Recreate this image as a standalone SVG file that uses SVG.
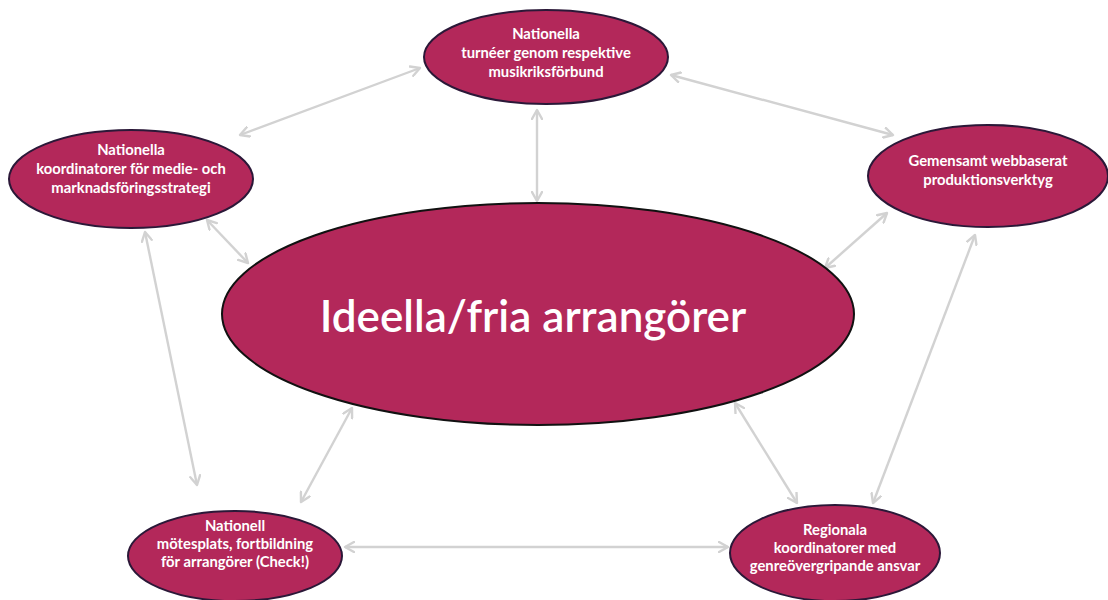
<svg xmlns="http://www.w3.org/2000/svg" width="1108" height="600" viewBox="0 0 1108 600">
<defs>
<marker id="ah" viewBox="0 0 12 12" refX="10" refY="6" markerWidth="12" markerHeight="12" markerUnits="userSpaceOnUse" orient="auto-start-reverse">
<path d="M1,1 L10,6 L1,11" fill="none" stroke="#d2d2d2" stroke-width="2.4" stroke-linecap="round" stroke-linejoin="round"/>
</marker>
<style>
.node{fill:#b3285a;stroke:#2b1838;stroke-width:2}
.big{fill:#b3285a;stroke:#111;stroke-width:2}
.lbl{font-family:Lato,"Liberation Sans",sans-serif;font-weight:bold;font-size:14.8px;fill:#fff;text-anchor:middle}
.title{font-family:Lato,"Liberation Sans",sans-serif;font-weight:600;font-size:44px;fill:#fff;text-anchor:middle}
.conn line{stroke:#d2d2d2;stroke-width:2.4;marker-start:url(#ah);marker-end:url(#ah)}
</style>
</defs>
<rect width="1108" height="600" fill="#fff"/>
<g id="connectors" class="conn">
<line x1="240" y1="135" x2="420" y2="68"/>
<line x1="671" y1="75" x2="893" y2="135"/>
<line x1="537" y1="110" x2="537" y2="201"/>
<line x1="207" y1="220" x2="248" y2="263"/>
<line x1="887" y1="213" x2="825" y2="268"/>
<line x1="145" y1="232" x2="197" y2="485"/>
<line x1="975" y1="235" x2="873" y2="503"/>
<line x1="352" y1="408" x2="301" y2="502"/>
<line x1="735" y1="403" x2="797" y2="503"/>
<line x1="345" y1="547" x2="728" y2="547"/>
</g>
<g id="center">
<ellipse class="big" cx="538" cy="314" rx="316" ry="111"/>
<text class="title" x="533" y="332">Ideella/fria arrangörer</text>
</g>
<g id="top">
<ellipse class="node" cx="546" cy="57" rx="122" ry="47"/>
<text class="lbl" x="546" y="39">Nationella</text>
<text class="lbl" x="546" y="58">turnéer genom respektive</text>
<text class="lbl" x="546" y="77">musikriksförbund</text>
</g>
<g id="left">
<ellipse class="node" cx="131" cy="179" rx="122" ry="49"/>
<text class="lbl" x="131" y="155">Nationella</text>
<text class="lbl" x="131" y="174">koordinatorer för medie- och</text>
<text class="lbl" x="131" y="193">marknadsföringsstrategi</text>
</g>
<g id="right">
<ellipse class="node" cx="988" cy="176" rx="120" ry="51"/>
<text class="lbl" x="988" y="166">Gemensamt webbaserat</text>
<text class="lbl" x="988" y="185">produktionsverktyg</text>
</g>
<g id="bottom-left">
<ellipse class="node" cx="235" cy="556" rx="107" ry="45"/>
<text class="lbl" x="235" y="531">Nationell</text>
<text class="lbl" x="235" y="549">mötesplats, fortbildning</text>
<text class="lbl" x="235" y="567">för arrangörer (Check!)</text>
</g>
<g id="bottom-right">
<ellipse class="node" cx="835" cy="553" rx="105" ry="48"/>
<text class="lbl" x="835" y="535">Regionala</text>
<text class="lbl" x="835" y="553">koordinatorer med</text>
<text class="lbl" x="835" y="571">genreövergripande ansvar</text>
</g>
</svg>
